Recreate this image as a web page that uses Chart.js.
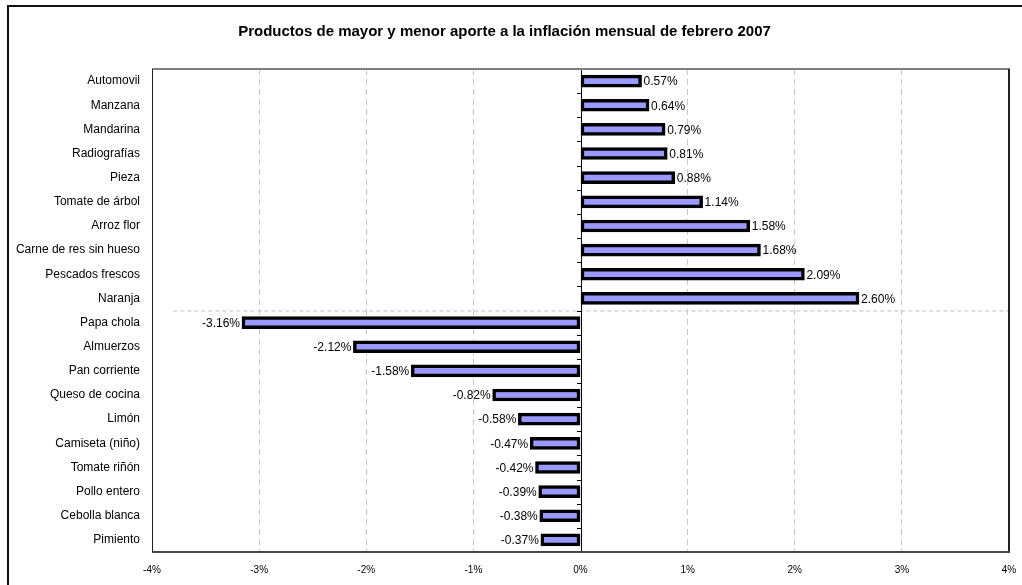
<!DOCTYPE html>
<html>
<head>
<meta charset="utf-8">
<script src="https://cdn.jsdelivr.net/npm/chart.js@4.4.1/dist/chart.umd.min.js"></script>
<style>
  html, body { margin: 0; padding: 0; background: #fff; }
  #wrap { width: 1022px; height: 585px; position: relative; }
</style>
</head>
<body>
<div id="wrap"><canvas id="chart" width="1022" height="585"></canvas></div>
<script>
// datos (aporte en %)
var productos = [
  'Automovil', 'Manzana', 'Mandarina', 'Radiografías', 'Pieza',
  'Tomate de árbol', 'Arroz flor', 'Carne de res sin hueso', 'Pescados frescos', 'Naranja',
  'Papa chola', 'Almuerzos', 'Pan corriente', 'Queso de cocina', 'Limón',
  'Camiseta (niño)', 'Tomate riñón', 'Pollo entero', 'Cebolla blanca', 'Pimiento'
];
var aportes = [
  0.57, 0.64, 0.79, 0.81, 0.88,
  1.14, 1.58, 1.68, 2.09, 2.60,
  -3.16, -2.12, -1.58, -0.82, -0.58,
  -0.47, -0.42, -0.39, -0.38, -0.37
];
var xTicks = [-4, -3, -2, -1, 0, 1, 2, 3, 4];
var titulo = 'Productos de mayor y menor aporte a la inflación mensual de febrero 2007';

var fuente = '"Liberation Sans", Arial, sans-serif';

// marco del grafico, bordes del area, eje cero y etiquetas
var extras = {
  id: 'extras',
  beforeDraw: function(chart) {
    var ctx = chart.ctx;
    ctx.save();
    ctx.strokeStyle = '#111';
    ctx.lineWidth = 2;
    ctx.strokeRect(8, 6, chart.width + 10, chart.height + 10);
    ctx.restore();
  },
  afterDatasetsDraw: function(chart) {
    var ctx = chart.ctx;
    var a = chart.chartArea;
    var xs = chart.scales.x, ys = chart.scales.y;
    ctx.save();

    // linea divisoria punteada
    var yDiv = (ys.getPixelForValue(9) + ys.getPixelForValue(10)) / 2;
    ctx.strokeStyle = '#bdbdbd';
    ctx.lineWidth = 1;
    ctx.setLineDash([4, 3]);
    ctx.beginPath();
    ctx.moveTo(xs.getPixelForValue(-3.8), yDiv + 0.5);
    ctx.lineTo(a.right, yDiv + 0.5);
    ctx.stroke();
    ctx.setLineDash([]);

    // eje en cero con marcas
    var x0 = Math.round(xs.getPixelForValue(0));
    ctx.strokeStyle = '#000';
    ctx.lineWidth = 1;
    ctx.beginPath();
    ctx.moveTo(x0 + 0.5, a.top);
    ctx.lineTo(x0 + 0.5, a.bottom);
    for (var i = 0; i <= productos.length; i++) {
      var yb = Math.round(a.top + i * (a.bottom - a.top) / productos.length) + 0.5;
      ctx.moveTo(x0 - 4, yb);
      ctx.lineTo(x0 + 0.5, yb);
    }
    ctx.stroke();

    // bordes del area de trazado
    ctx.lineWidth = 2;
    ctx.strokeStyle = '#808080';
    ctx.beginPath();
    ctx.moveTo(a.left, a.top);
    ctx.lineTo(a.right + 1, a.top);
    ctx.stroke();
    ctx.strokeStyle = '#222';
    ctx.beginPath();
    ctx.moveTo(a.right, a.top);
    ctx.lineTo(a.right, a.bottom);
    ctx.stroke();
    ctx.strokeStyle = '#444';
    ctx.beginPath();
    ctx.moveTo(a.left, a.bottom);
    ctx.lineTo(a.right + 1, a.bottom);
    ctx.stroke();
    ctx.lineWidth = 1;
    ctx.strokeStyle = '#222';
    ctx.beginPath();
    ctx.moveTo(a.left + 0.5, a.top);
    ctx.lineTo(a.left + 0.5, a.bottom);
    ctx.stroke();

    // etiquetas de valor
    ctx.fillStyle = '#000';
    ctx.font = '12px ' + fuente;
    ctx.textBaseline = 'middle';
    var meta = chart.getDatasetMeta(0);
    meta.data.forEach(function(bar, i) {
      var v = aportes[i];
      var txt = v.toFixed(2) + '%';
      if (v >= 0) {
        ctx.textAlign = 'left';
        ctx.fillText(txt, bar.x + 2, bar.y + 1);
      } else {
        ctx.textAlign = 'right';
        ctx.fillText(txt, bar.x - 2, bar.y + 1);
      }
    });
    ctx.restore();
  }
};

var ctx = document.getElementById('chart');
var myChart = new Chart(ctx, {
  type: 'bar',
  data: {
    labels: productos,
    datasets: [{
      data: aportes,
      backgroundColor: '#9999ff',
      borderColor: '#000',
      borderWidth: 3.5,
      borderSkipped: false,
      barThickness: 12
    }]
  },
  options: {
    indexAxis: 'y',
    responsive: false,
    animation: false,
    maintainAspectRatio: false,
    layout: { padding: { top: 0, right: 13, bottom: 0, left: 0 } },
    plugins: {
      legend: { display: false },
      tooltip: { enabled: false },
      title: {
        display: true,
        text: titulo,
        color: '#000',
        font: { family: fuente, size: 15, weight: 'bold' },
        padding: { top: 23, bottom: 28 }
      }
    },
    scales: {
      x: {
        type: 'linear',
        min: -4,
        max: 4,
        afterBuildTicks: function(scale) {
          scale.ticks = xTicks.map(function(v) { return { value: v }; });
        },
        afterFit: function(scale) {
          scale.height = 33;
          scale.paddingLeft = 0;
          scale.paddingRight = 0;
        },
        grid: {
          drawTicks: false,
          color: function(c) {
            var v = c.tick ? c.tick.value : 0;
            return (v === -4 || v === 0 || v === 4) ? 'rgba(0,0,0,0)' : '#c8c8c8';
          }
        },
        border: { display: false, dash: [6, 4] },
        ticks: {
          color: '#000',
          padding: 12,
          font: { family: fuente, size: 10 },
          callback: function(v) { return v + '%'; }
        }
      },
      y: {
        afterFit: function(scale) { scale.width = 152; },
        grid: { display: false, drawTicks: false },
        border: { display: false },
        ticks: {
          color: '#000',
          padding: 12,
          autoSkip: false,
          font: { family: fuente, size: 12 }
        }
      }
    }
  },
  plugins: [extras]
});
</script>
</body>
</html>
